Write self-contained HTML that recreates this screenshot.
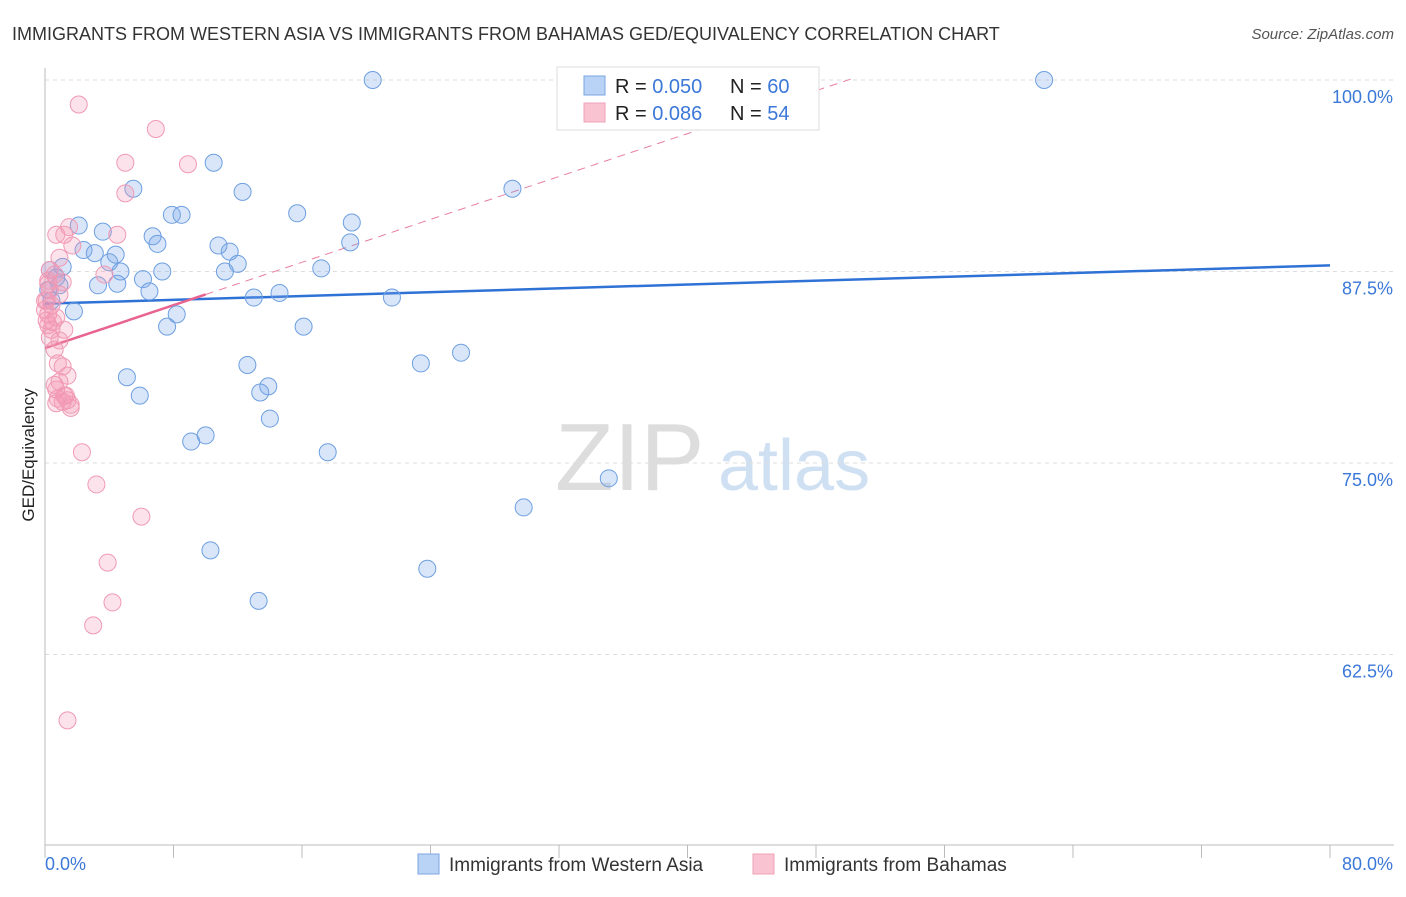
<!DOCTYPE html>
<html><head><meta charset="utf-8"><style>
body{margin:0;background:#fff;font-family:"Liberation Sans",sans-serif;}
svg text{font-family:"Liberation Sans",sans-serif;}
</style></head><body>
<svg id="chart" width="1406" height="892" xmlns="http://www.w3.org/2000/svg">
<text x="12" y="40" font-size="18" fill="#333">IMMIGRANTS FROM WESTERN ASIA VS IMMIGRANTS FROM BAHAMAS GED/EQUIVALENCY CORRELATION CHART</text>
<text x="1394" y="39" font-size="15" fill="#555" font-style="italic" text-anchor="end">Source: ZipAtlas.com</text>
<text x="555" y="490" font-size="96" fill="#ddd" font-family="Liberation Serif">ZIP</text>
<text x="718" y="490" font-size="72" fill="#cfe0f3">atlas</text>
<text transform="translate(34,455) rotate(-90)" font-size="17" fill="#222" text-anchor="middle">GED/Equivalency</text>
<g id="grid"></g><g id="axes"></g><g id="trend"></g><g id="points"></g>
<g>
<rect x="557" y="67" width="262" height="63" fill="#fff" stroke="#ddd"/>
<rect x="584" y="76" width="21" height="19" fill="#b8d3f5" stroke="#7aa6e0"/>
<rect x="584" y="103" width="21" height="19" fill="#f9c3d2" stroke="#eea0b8"/>
<text x="615" y="93" font-size="20" fill="#222">R = <tspan fill="#3b78d8">0.050</tspan></text>
<text x="730" y="93" font-size="20" fill="#222">N = <tspan fill="#3b78d8">60</tspan></text>
<text x="615" y="120" font-size="20" fill="#222">R = <tspan fill="#3b78d8"> 0.086</tspan></text>
<text x="730" y="120" font-size="20" fill="#222">N = <tspan fill="#3b78d8">54</tspan></text>
</g>
<g>
<rect x="418" y="854" width="21" height="20" fill="#b8d3f5" stroke="#7aa6e0"/>
<text x="449" y="871" font-size="19" fill="#333">Immigrants from Western Asia</text>
<rect x="753" y="854" width="21" height="20" fill="#f9c3d2" stroke="#eea0b8"/>
<text x="784" y="871" font-size="19" fill="#333">Immigrants from Bahamas</text>
</g>
</svg>
<script>
const yTicks=[100,87.5,75,62.5];
const yTickLabels=["100.0%","87.5%","75.0%","62.5%"];
const xLabels=["0.0%","80.0%"];
const blueX=[20.4,42.3,62.2,10.5,5.5,12.3,29.1,7.9,8.5,15.7,19.1,2.1,3.6,6.7,7.0,10.8,11.5,19.0,2.4,3.1,4.4,4.0,4.7,12.0,7.3,11.2,17.2,6.1,1.1,0.7,3.3,0.9,4.5,6.5,13.0,14.6,21.6,1.8,8.2,7.6,16.1,25.9,23.4,12.6,5.1,13.9,13.4,5.9,14.0,10.0,9.1,17.6,35.1,29.8,10.3,23.8,13.3,0.3,0.2,0.4];
const blueY=[100,100,100,94.6,92.9,92.7,92.9,91.2,91.2,91.3,90.7,90.5,90.1,89.8,89.3,89.2,88.8,89.4,88.9,88.7,88.6,88.1,87.5,88.0,87.5,87.5,87.7,87.0,87.8,87.1,86.6,86.6,86.7,86.2,85.8,86.1,85.8,84.9,84.7,83.9,83.9,82.2,81.5,81.4,80.6,80.0,79.6,79.4,77.9,76.8,76.4,75.7,74.0,72.1,69.3,68.1,66.0,87.6,86.3,85.6];
const pinkX=[2.1,6.9,5.0,8.9,5.0,1.5,4.5,0.7,1.2,1.7,0.9,0.3,0.6,3.7,1.1,0.2,0.9,0.1,0.4,0.2,0.7,0.5,0.2,1.2,0.3,0.8,1.1,1.4,0.9,0.7,1.2,1.4,0.7,1.6,1.1,2.3,3.2,6.0,3.9,4.2,3.0,1.4,0.0,0.1,0.3,0.6,1.3,0.8,0.2,0.4,0.9,0.0,1.6,0.6];
const pinkY=[98.4,96.8,94.6,94.5,92.6,90.4,89.9,89.9,89.9,89.2,88.4,87.6,87.3,87.3,86.8,86.7,86.0,85.6,85.3,84.7,84.5,84.2,84.0,83.7,83.2,81.5,81.3,80.7,80.3,79.8,79.4,79.1,78.9,78.6,79.0,75.7,73.6,71.5,68.5,65.9,64.4,58.2,85.0,84.3,86.3,82.4,79.4,79.2,86.9,83.7,83.0,85.6,78.8,80.1];
const blueTrend=[85.4,87.9];
const pinkTrend=[82.5,86.0];
const pinkTrendSlope=0.35;

const X0=45,X1=1330,Y100=80,PPU=191.5/12.5;
const sx=v=>X0+(v/80)*(X1-X0);
const sy=v=>Y100+(100-v)*PPU;
const NS="http://www.w3.org/2000/svg";
function mk(tag,attrs,parent){const e=document.createElementNS(NS,tag);for(const k in attrs)e.setAttribute(k,attrs[k]);parent.appendChild(e);return e;}
const grid=document.getElementById('grid'),axes=document.getElementById('axes'),trend=document.getElementById('trend'),pts=document.getElementById('points');
yTicks.forEach((t,i)=>{
 const l=mk('line',{x1:X0,x2:1394,y1:sy(t),y2:sy(t),stroke:'#ddd','stroke-dasharray':'4,4'},grid);
 
 
 const tx=mk('text',{x:1393,y:sy(t)+23,'font-size':18,fill:'#3b78d8','text-anchor':'end'},axes);
 tx.textContent=yTickLabels[i];
 
 
});
const ax=mk('line',{x1:X0,x2:1394,y1:845,y2:845,stroke:'#bbb'},axes);


const ay=mk('line',{x1:X0,x2:X0,y1:68,y2:845,stroke:'#bbb'},axes);


for(let v=0;v<=80;v+=8){
 const t=mk('line',{x1:sx(v),x2:sx(v),y1:845,y2:858,stroke:'#bbb'},axes);
 
 
}
[[0,'start',xLabels[0]],[80,'end',xLabels[1]]].forEach(([v,a,s])=>{
 const t=mk('text',{x:v===0?45:1393,y:870,'font-size':18,fill:'#3b78d8','text-anchor':a},axes);
 t.textContent=s;
 
 
});
const bl=mk('line',{x1:sx(0),y1:sy(blueTrend[0]),x2:sx(80),y2:sy(blueTrend[1]),stroke:'#2f72d6','stroke-width':2.5},trend);


const pd=mk('line',{x1:sx(10),y1:sy(pinkTrend[1]),x2:sx(50.2),y2:sy(pinkTrend[0]+pinkTrendSlope*50.2),stroke:'#e87ea0','stroke-width':1,'stroke-dasharray':'8,6'},trend);


const pl=mk('line',{x1:sx(0),y1:sy(pinkTrend[0]),x2:sx(10),y2:sy(pinkTrend[1]),stroke:'#e8638f','stroke-width':2.5},trend);


blueX.forEach((x,i)=>{
 const c=mk('circle',{cx:sx(x),cy:sy(blueY[i]),r:8.5,fill:'rgba(120,165,235,0.28)',stroke:'#6d9fe0','stroke-width':1},pts);
 
 
});
pinkX.forEach((x,i)=>{
 const c=mk('circle',{cx:sx(x),cy:sy(pinkY[i]),r:8.5,fill:'rgba(245,150,180,0.28)',stroke:'#f09ab5','stroke-width':1},pts);
 
 
});
</script>
</body></html>
